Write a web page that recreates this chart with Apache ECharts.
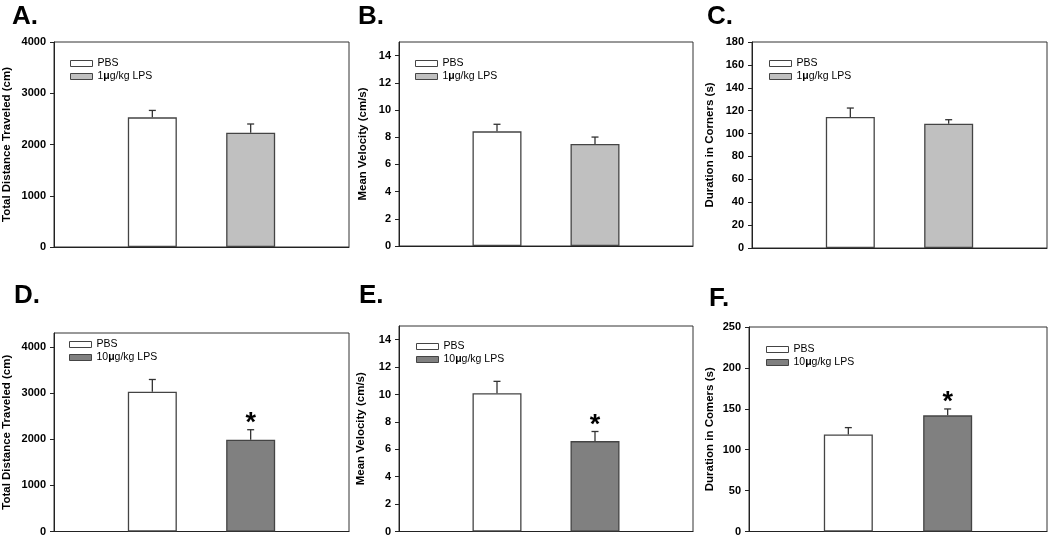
<!DOCTYPE html>
<html>
<head>
<meta charset="utf-8">
<script src="https://cdn.jsdelivr.net/npm/echarts@6/dist/echarts.min.js"></script>
<style>html,body{margin:0;padding:0;background:#fff}#c{width:1050px;height:537px}</style>
</head>
<body>
<div id="c"></div>
<script>
// ---- data ----
const categories = ['', 'PBS', 'LPS', ''];
const groupNames = ['PBS', '1μg/kg LPS', '10μg/kg LPS'];
const panelLetters = ['A.', 'B.', 'C.', 'D.', 'E.', 'F.'];
const yNames = ['Total Distance Traveled (cm)', 'Mean Velocity (cm/s)', 'Duration in Corners (s)',
                'Total Distance Traveled (cm)', 'Mean Velocity (cm/s)', 'Duration in Comers (s)'];
// top row: PBS vs 1 µg/kg LPS
const distLowMean = [2530, 2230];
const distLowErr  = [135, 170];
const velLowMean  = [8.43, 7.5];
const velLowErr   = [0.52, 0.51];
const cornLowMean = [114.5, 108.6];
const cornLowErr  = [7.8, 3.5];
// bottom row: PBS vs 10 µg/kg LPS
const distHighMean = [3030, 1990];
const distHighErr  = [263, 215];
const velHighMean  = [10.09, 6.6];
const velHighErr   = [0.87, 0.7];
const cornHighMean = [118.6, 142];
const cornHighErr  = [8.4, 7.8];
const sigLow  = [false, false];
const sigHigh = [false, true];
// axis ranges
const yMax      = [4000, 15, 180, 4300, 15, 250];
const yInterval = [1000, 2, 20, 1000, 2, 50];

// ---- layout ----
const grids = [
  {left: 52,  top: 42,  width: 297, height: 205},
  {left: 399, top: 42,  width: 294, height: 204},
  {left: 752, top: 42,  width: 295, height: 206},
  {left: 52,  top: 333, width: 297, height: 199},
  {left: 399, top: 326, width: 294, height: 206},
  {left: 749, top: 327, width: 298, height: 206}
];
const nameGaps = [41, 30, 36, 41, 32, 33];
const letterPos = [[12, 4], [358, 4], [707, 4], [14, 283], [359, 283], [709, 286]];
const legendPos = [[70, 58], [415, 58], [769, 58], [69, 339], [416, 341], [766, 344]];
const lpsColors = ['#c0c0c0', '#808080'];

const panels = [
  {mean: distLowMean, err: distLowErr, sig: sigLow, row: 0},
  {mean: velLowMean, err: velLowErr, sig: sigLow, row: 0},
  {mean: cornLowMean, err: cornLowErr, sig: sigLow, row: 0},
  {mean: distHighMean, err: distHighErr, sig: sigHigh, row: 1},
  {mean: velHighMean, err: velHighErr, sig: sigHigh, row: 1},
  {mean: cornHighMean, err: cornHighErr, sig: sigHigh, row: 1}
];

const option = {
  backgroundColor: '#fff',
  animation: false,
  title: [], grid: [], xAxis: [], yAxis: [], series: [], legend: []
};

panels.forEach((p, i) => {
  const lpsName = groupNames[p.row + 1];
  option.title.push({
    text: panelLetters[i], left: letterPos[i][0], top: letterPos[i][1], padding: 0,
    textStyle: {fontFamily: 'Liberation Sans, Arial', fontWeight: 'bold', fontSize: 26, color: '#000'}
  });
  option.grid.push(Object.assign({show: true, borderColor: '#333', borderWidth: 1, backgroundColor: 'transparent', containLabel: false}, grids[i]));
  option.xAxis.push({
    type: 'category', gridIndex: i, data: categories, boundaryGap: false,
    axisLine: {lineStyle: {color: '#222', width: 1}}, axisTick: {show: false}, axisLabel: {show: false},
    splitLine: {show: false}
  });
  option.yAxis.push({
    type: 'value', gridIndex: i, min: 0, max: yMax[i], interval: yInterval[i],
    name: yNames[i], nameLocation: 'middle', nameGap: nameGaps[i],
    nameTextStyle: {fontFamily: 'Liberation Sans, Arial', fontWeight: 'bold', fontSize: 11.5, color: '#000'},
    axisLine: {show: true, lineStyle: {color: '#222', width: 1}},
    axisTick: {show: true, length: 4, lineStyle: {color: '#222'}},
    axisLabel: {fontFamily: 'Liberation Sans, Arial', fontWeight: 'bold', fontSize: 11, color: '#000', margin: 8,
                formatter: v => String(v),
                showMaxLabel: (yMax[i] % yInterval[i] === 0)},
    splitLine: {show: false}
  });
  option.series.push({
    name: groupNames[0], type: 'bar', xAxisIndex: i, yAxisIndex: i, barWidth: 49, barGap: '-100%',
    data: ['-', p.mean[0], '-', '-'],
    itemStyle: {color: '#ffffff', borderColor: '#444', borderWidth: 1.3}
  });
  option.series.push({
    name: lpsName, type: 'bar', xAxisIndex: i, yAxisIndex: i, barWidth: 49, barGap: '-100%',
    data: ['-', '-', p.mean[1], '-'],
    itemStyle: {color: lpsColors[p.row], borderColor: '#444', borderWidth: 1.3}
  });
  option.series.push({
    type: 'custom', xAxisIndex: i, yAxisIndex: i, z: 5,
    data: [[1, p.mean[0], p.err[0], p.sig[0] ? 1 : 0], [2, p.mean[1], p.err[1], p.sig[1] ? 1 : 0]],
    renderItem: function (params, api) {
      const x = api.value(0), m = api.value(1), e = api.value(2), s = api.value(3);
      const b = api.coord([x, m]);
      const t = api.coord([x, m + e]);
      const children = [
        {type: 'line', shape: {x1: b[0], y1: b[1], x2: t[0], y2: t[1]}, style: {stroke: '#333', lineWidth: 1.3}},
        {type: 'line', shape: {x1: t[0] - 3.5, y1: t[1], x2: t[0] + 3.5, y2: t[1]}, style: {stroke: '#333', lineWidth: 1.3}}
      ];
      if (s) {
        children.push({type: 'text', style: {text: '*', x: t[0], y: t[1] - 6, textAlign: 'center', textVerticalAlign: 'middle',
          font: 'bold 27px "Liberation Sans", Arial', fill: '#000'}});
      }
      return {type: 'group', children: children};
    }
  });
  option.legend.push({
    orient: 'vertical', left: legendPos[i][0], top: legendPos[i][1], padding: 0, itemGap: 2,
    itemWidth: 22, itemHeight: 6, icon: 'rect',
    data: [groupNames[0], lpsName],
    selectedMode: false,
    formatter: n => n.replace('μ', '{b|μ}'),
    textStyle: {fontFamily: 'Liberation Sans, Arial', fontSize: 10.5, color: '#000', lineHeight: 11,
      rich: {b: {fontFamily: 'Liberation Sans, Arial', fontSize: 10.5, fontWeight: 'bold', color: '#000', lineHeight: 11}}},
    itemStyle: {borderColor: '#444', borderWidth: 1}
  });
});

const chart = echarts.init(document.getElementById('c'), null, {renderer: 'canvas'});
chart.setOption(option);
</script>
</body>
</html>
